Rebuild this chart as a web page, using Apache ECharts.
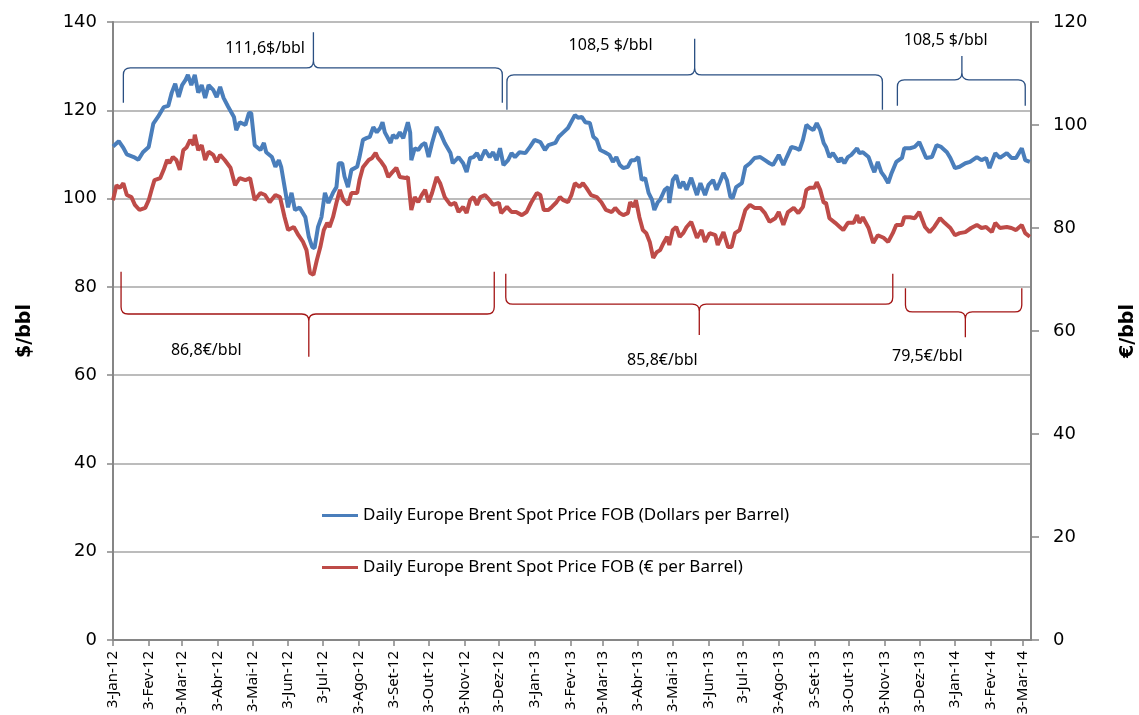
<!DOCTYPE html>
<html>
<head>
<meta charset="utf-8" />
<title>Brent</title>
<script src="https://cdn.jsdelivr.net/npm/echarts@6/dist/echarts.min.js"></script>
</head>
<body style="margin:0">
<div id="main" style="width:1139px;height:715px;"></div>
<script type="text/javascript">
// days are counted from 3-Jan-12
var startDate = Date.UTC(2012, 0, 3);
var dayCount = 798;
var monthNames = ['Jan','Fev','Mar','Abr','Mai','Jun','Jul','Ago','Set','Out','Nov','Dez'];

var usdName = 'Daily Europe Brent Spot Price FOB (Dollars per Barrel)';
var eurName = 'Daily Europe Brent Spot Price FOB (€ per Barrel)';

var usdDay = [0,5,9,12,18,22,26,31,35,39,44,48,51,54,57,60,63,65,68,71,74,77,80,83,87,90,93,96,100,105,107,110,115,118,120,123,128,131,133,138,141,144,146,149,152,155,158,162,167,170,173,175,178,181,184,187,191,194,196,199,201,204,207,212,214,217,220,223,226,229,232,234,236,241,243,246,249,252,256,258,259,262,265,268,271,274,277,281,284,288,293,295,300,304,307,310,313,316,319,323,327,330,333,336,339,343,346,349,353,358,362,366,371,375,378,384,387,391,395,401,404,407,410,414,417,420,423,427,431,434,437,440,443,447,450,453,456,459,462,465,468,470,473,475,479,482,483,486,489,492,495,498,502,507,510,514,517,521,524,527,530,533,536,538,541,546,549,553,557,562,566,570,573,578,582,585,589,593,596,599,602,605,608,611,614,617,619,622,625,630,632,635,638,641,646,648,651,656,659,661,664,667,670,673,676,680,685,687,692,696,700,703,706,711,715,719,724,727,731,735,740,744,750,754,758,761,766,770,776,780,784,789,792,796];
var usdVal = [111.8,113,111.5,110,109.4,108.8,110.5,111.7,117,118.5,120.7,121,124,126,123,125.7,126.9,128,125.7,128,124,125.7,122.8,125.7,124.6,123,125.3,122.8,120.8,118.5,115.5,117.3,116.7,119.4,119.4,112.1,111,112.6,110.5,109.4,107.2,108.7,107.2,102.6,98,101.3,97.4,98,95.8,91.3,89,88.8,93.6,95.8,101.3,99,101.3,102.6,108,108,105,102.6,106.5,107.2,109.4,113.3,113.7,114,116.2,115,116,117.3,115,112.6,114.4,113.7,115,113.7,117.3,115,108.7,111.4,111,112.1,112.6,109.4,112.6,116.2,115,112.6,110.3,108,109.4,108,106,109.2,109.4,110.3,108.7,111,109.4,110.5,108.7,111.4,107.6,108.7,110.3,109.4,110.5,110.3,111.7,113.3,112.8,111,112.1,112.6,114,115,116,118.9,118.3,118.5,117.3,117.1,114,113.3,111,110.5,109.9,108.3,109.4,107.6,106.9,107.2,108.7,108.7,109.4,104.2,104.7,101.3,99.7,97.4,99.2,99.7,102,102.6,99,104.2,105.3,102.4,103.8,102,104.7,100.8,103.5,100.8,103.1,104.2,102,103.8,105.8,104.2,100.4,100.1,102.6,103.5,107.2,108,109.2,109.4,108.7,108,107.6,109.9,107.6,109.4,111.7,111.4,111,113.3,116.7,116,115.5,117.1,115.5,112.6,111.7,109.4,110.3,108.3,109.2,108,109.4,109.9,111.4,110.3,110.5,109.4,107.2,106,108.3,106,104.9,103.5,105.8,108.3,109.2,111.4,111.4,111.7,112.8,111,109.2,109.4,112.1,111.7,110.5,109.2,106.9,107.2,108,108.3,109.4,108.7,109.2,106.9,110.3,109.2,110.3,109.2,109.2,111.4,108.7,108.3];

var eurDay = [0,3,6,9,12,16,19,23,28,31,34,36,41,44,47,49,52,55,58,61,64,67,70,71,74,77,80,83,87,90,93,97,102,106,110,115,119,123,128,132,136,141,145,149,152,157,161,165,168,171,174,177,180,183,186,188,191,194,197,200,204,207,212,214,217,222,225,228,230,233,236,239,242,246,249,254,256,259,262,265,268,271,274,277,281,284,288,293,297,300,304,307,310,313,316,319,323,327,330,335,337,342,346,350,355,359,363,368,371,374,378,381,385,388,391,395,398,401,405,408,411,415,420,424,428,433,436,440,443,447,449,452,454,457,460,463,466,469,472,475,478,481,483,486,489,492,495,498,502,507,511,514,518,523,525,530,534,537,540,544,549,553,557,562,566,570,575,578,582,586,591,595,599,602,605,609,611,614,617,619,622,627,631,634,638,643,646,648,651,656,660,664,669,673,677,680,685,687,692,696,700,705,709,713,718,722,727,731,735,740,745,750,754,758,763,766,770,776,780,784,789,792,796];
var eurVal = [85.4,88.3,87.8,88.7,86.4,86,84.5,83.5,83.9,85.4,87.8,89.3,89.7,91.3,93.2,92.6,93.8,93.2,91.3,95.1,95.7,97.1,96.1,98.1,95.1,96.1,93.2,94.8,94.2,92.8,94.2,93.2,91.7,88.3,89.7,89.3,89.7,85.4,86.8,86.4,85,86.4,86,82.1,79.6,80.2,78.6,77.3,75.7,71.3,70.9,73.8,76.3,79.6,81,80.2,82.1,84.9,87.4,85.4,84.5,86.8,86.8,89.3,91.8,93.2,93.6,94.6,93.6,92.8,91.8,89.9,90.7,91.7,89.9,89.7,89.9,83.5,86,85,86.4,87.4,85,86.8,89.9,88.7,86,84.5,84.9,83.1,84.1,82.9,85.4,86,84.5,86,86.4,85.4,84.5,84.9,82.9,84.1,83.1,83.1,82.5,83.1,84.9,86.8,86.4,83.5,83.5,84.1,85,86,85.4,85,86.4,88.7,88,88.7,87.8,86.4,86,85,83.5,83.1,83.9,82.9,82.5,82.9,85,84.1,85.4,82.1,79.6,79,77.3,74.2,75.3,75.7,77.1,78.3,76.7,79.6,80.2,78.3,79,80.2,81.2,78.1,79.6,77.3,79,78.6,76.7,79.2,76.3,76.3,79,79.6,83.5,84.5,83.9,83.9,82.9,81.2,81.9,83.1,80.6,83.1,83.9,82.9,84.1,87.4,87.8,87.8,88.9,87.4,84.9,84.9,81.9,81,80.2,79.6,81,81,82.5,81,82.1,80,77.1,78.6,78.1,77.3,79,80.6,80.6,82.1,82.1,81.9,83.1,80.2,79.2,80.2,81.9,81,80,78.6,79,79.2,80,80.6,80,80.2,79.2,81,80,80.2,80,79.6,80.6,79,78.3];

// period averages: [first day, middle day, last day]
var usdPeriods = [[9,174,338],[342,505,668],[681,737,792]];
var usdAvgLabels = ['111,6$/bbl','108,5 $/bbl','108,5 $/bbl'];
var eurPeriods = [[7,170,331],[341,509,677],[688,740,789]];
var eurAvgLabels = ['86,8€/bbl','85,8€/bbl','79,5€/bbl'];

// brace drawing: levels in axis units, label centre [day, level]
var usdBraceLayout = [
	{end:121.7, bar:129.6, tip:137.7, label:[132,134.1]},
	{end:120.1, bar:128.0, tip:136.2, label:[432,134.6]},
	{end:121.0, bar:126.9, tip:132.3, label:[723,135.9]}
];
var eurBraceLayout = [
	{end:71.5, bar:63.3, tip:55.0, label:[81,56.3]},
	{end:71.1, bar:65.2, tip:59.2, label:[477,54.2]},
	{end:68.3, bar:63.7, tip:58.8, label:[707,55.0]}
];

var cats = [];
for (var i = 0; i < dayCount; i++) {
	cats.push(new Date(startDate + i * 86400000).toISOString().slice(0, 10));
}
function isThird(index, value) { return value.slice(8) === '03'; }
function pairs(days, vals) {
	return days.map(function (d, k) { return [cats[d], vals[k]]; });
}

function braceRenderer(periods, layout, labels, color) {
	return function (params, api) {
		var k = params.dataIndex, p = periods[k], l = layout[k];
		var a = api.coord([p[0], l.end]), b = api.coord([p[0], l.bar]);
		var t = api.coord([p[1], l.tip]), e = api.coord([p[2], l.bar]);
		var lp = api.coord(l.label);
		var x0 = a[0], x1 = e[0], xt = t[0], yE = a[1], yB = b[1], yT = t[1];
		var s = yE > yB ? 1 : -1, r = 7;
		var d = 'M' + x0 + ' ' + yE +
			' L' + x0 + ' ' + (yB + s * r) +
			' Q' + x0 + ' ' + yB + ' ' + (x0 + r) + ' ' + yB +
			' L' + (xt - r) + ' ' + yB +
			' Q' + xt + ' ' + yB + ' ' + xt + ' ' + (yB - s * r) +
			' L' + xt + ' ' + yT +
			' M' + xt + ' ' + (yB - s * r) +
			' Q' + xt + ' ' + yB + ' ' + (xt + r) + ' ' + yB +
			' L' + (x1 - r) + ' ' + yB +
			' Q' + x1 + ' ' + yB + ' ' + x1 + ' ' + (yB + s * r) +
			' L' + x1 + ' ' + yE;
		return {
			type: 'group',
			children: [
				{type: 'path', shape: {pathData: d}, style: {fill: 'none', stroke: color, lineWidth: 1.3}},
				{type: 'text', x: lp[0], y: lp[1], style: {text: labels[k], fill: '#000', font: '16px "Noto Sans"', align: 'center', verticalAlign: 'middle'}}
			]
		};
	};
}

var myChart = echarts.init(document.getElementById('main'));

var axisGray = '#868686';
var option = {
	animation: false,
	textStyle: {fontFamily: 'Noto Sans'},
	grid: {left: 113, right: 108, top: 22, bottom: 75, outerBoundsMode: 'none'},
	legend: {
		orient: 'vertical',
		left: 317,
		top: 502,
		itemGap: 35,
		itemWidth: 36,
		itemHeight: 3,
		icon: 'rect',
		textStyle: {fontSize: 17, color: '#000', fontFamily: 'Noto Sans'},
		data: [usdName, eurName]
	},
	xAxis: {
		type: 'category',
		data: cats,
		boundaryGap: false,
		axisLine: {lineStyle: {color: axisGray, width: 2}},
		axisTick: {interval: isThird, length: 6, lineStyle: {color: axisGray, width: 1.5}},
		axisLabel: {
			interval: isThird,
			rotate: 90,
			margin: 11,
			fontSize: 15,
			color: '#000',
			formatter: function (v) {
				return '3-' + monthNames[+v.slice(5, 7) - 1] + '-' + v.slice(2, 4);
			}
		},
		splitLine: {show: false}
	},
	yAxis: [
		{
			type: 'value', min: 0, max: 140, interval: 20,
			name: '$/bbl', nameLocation: 'middle', nameRotate: 90, nameGap: 78,
			nameTextStyle: {fontSize: 19, fontWeight: 'bold', color: '#000', fontFamily: 'DejaVu Sans'},
			axisLine: {show: true, lineStyle: {color: axisGray, width: 2}},
			axisTick: {show: true, length: 6, lineStyle: {color: axisGray, width: 1.5}},
			axisLabel: {fontSize: 18, color: '#000', margin: 16, fontFamily: 'DejaVu Sans'},
			splitLine: {lineStyle: {color: '#a6a6a6', width: 1.5}}
		},
		{
			type: 'value', min: 0, max: 120, interval: 20, position: 'right',
			name: '€/bbl', nameLocation: 'middle', nameRotate: 90, nameGap: 88,
			nameTextStyle: {fontSize: 19, fontWeight: 'bold', color: '#000', fontFamily: 'DejaVu Sans'},
			axisLine: {show: true, lineStyle: {color: axisGray, width: 2}},
			axisTick: {show: true, length: 8, lineStyle: {color: axisGray, width: 1.5}},
			axisLabel: {fontSize: 18, color: '#000', margin: 22, fontFamily: 'DejaVu Sans'},
			splitLine: {show: false}
		}
	],
	series: [
		{
			name: usdName, type: 'line', yAxisIndex: 0,
			showSymbol: false, symbol: 'none',
			lineStyle: {color: '#4a7ebb', width: 4},
			itemStyle: {color: '#4a7ebb'},
			data: pairs(usdDay, usdVal)
		},
		{
			name: eurName, type: 'line', yAxisIndex: 1,
			showSymbol: false, symbol: 'none',
			lineStyle: {color: '#be4b48', width: 4},
			itemStyle: {color: '#be4b48'},
			data: pairs(eurDay, eurVal)
		},
		{
			type: 'custom', yAxisIndex: 0, silent: true,
			renderItem: braceRenderer(usdPeriods, usdBraceLayout, usdAvgLabels, '#2a4f82'),
			data: usdPeriods.map(function (p) { return [cats[p[0]], 0]; })
		},
		{
			type: 'custom', yAxisIndex: 1, silent: true,
			renderItem: braceRenderer(eurPeriods, eurBraceLayout, eurAvgLabels, '#a31515'),
			data: eurPeriods.map(function (p) { return [cats[p[0]], 0]; })
		}
	]
};

myChart.setOption(option);
</script>
</body>
</html>
